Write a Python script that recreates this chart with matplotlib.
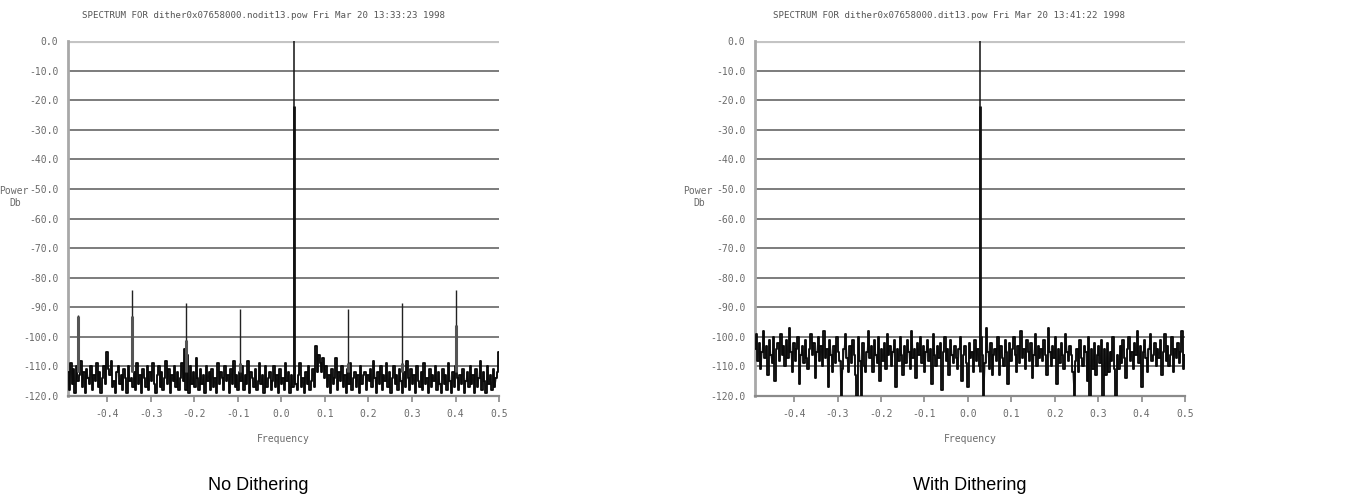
import numpy as np
import matplotlib
matplotlib.use("Agg")
import matplotlib.pyplot as plt

# ---------------- data ----------------
titles = ["SPECTRUM FOR dither0x07658000.nodit13.pow Fri Mar 20 13:33:23 1998",
          "SPECTRUM FOR dither0x07658000.dit13.pow Fri Mar 20 13:41:22 1998"]
captions = ["No Dithering", "With Dithering"]
y_ticks = [0, -10, -20, -30, -40, -50, -60, -70, -80, -90, -100, -110, -120]
x_ticks = [-0.4, -0.3, -0.2, -0.1, 0.0, 0.1, 0.2, 0.3, 0.4, 0.5]
freq_start, freq_end = -0.49, 0.5

noise_nodither = [
    -112,-118,-109,-116,-111,-119,-110,-115,-113,-108,-117,-112,-119,-111,-114,-116,-110,-118,-113,-115,
    -109,-117,-112,-119,-114,-110,-116,-105,-111,-113,-108,-117,-115,-119,-112,-110,-116,-113,-118,-111,
    -114,-119,-110,-115,-114,-117,-112,-118,-109,-116,-113,-119,-111,-114,-117,-110,-118,-112,-115,-109,
    -116,-119,-113,-110,-117,-112,-118,-114,-108,-116,-111,-119,-113,-115,-110,-117,-112,-118,-114,-109,
    -115,-104,-118,-106,-119,-110,-116,-112,-117,-107,-114,-118,-111,-116,-113,-119,-110,-115,-112,-118,
    -111,-117,-114,-119,-109,-116,-112,-114,-118,-110,-115,-113,-119,-111,-116,-108,-117,-113,-118,-112,
    -115,-110,-118,-113,-116,-108,-119,-112,-114,-117,-111,-118,-115,-109,-116,-113,-119,-110,-117,-114,
    -112,-118,-115,-110,-117,-113,-119,-111,-116,-114,-118,-109,-115,-112,-119,-113,-117,-110,-116,-118,
    -113,-109,-117,-114,-119,-112,-116,-110,-118,-115,-111,-117,-103,-112,-106,-109,-112,-107,-114,-110,
    -117,-113,-119,-111,-116,-114,-107,-118,-112,-115,-110,-117,-113,-119,-111,-116,-109,-118,-114,-112,
    -117,-113,-119,-110,-116,-113,-112,-118,-113,-115,-111,-117,-108,-114,-119,-112,-116,-110,-118,-113,
    -115,-109,-117,-112,-119,-114,-110,-116,-113,-118,-111,-115,-119,-112,-117,-108,-114,-118,-111,-116,
    -113,-119,-110,-115,-117,-112,-118,-109,-116,-114,-119,-111,-117,-113,-115,-110,-118,-112,-116,-119,
    -111,-116,-113,-118,-109,-115,-119,-112,-117,-110,-114,-118,-113,-116,-111,-119,-115,-112,-117,-110,
    -116,-113,-119,-111,-117,-114,-108,-118,-112,-115,-119,-110,-116,-113,-118,-111,-117,-114,-112,-105,
]

noise_dither = [
    -104,-99,-108,-102,-111,-105,-98,-107,-103,-113,-101,-106,-109,-100,-115,-104,-102,-108,-99,-106,
    -103,-110,-101,-107,-97,-105,-112,-102,-108,-104,-100,-116,-106,-103,-109,-101,-107,-111,-104,-99,
    -106,-102,-114,-105,-100,-108,-103,-110,-98,-107,-104,-117,-101,-106,-112,-103,-109,-100,-105,-108,
    -120,-111,-104,-99,-107,-112,-103,-109,-101,-106,-113,-120,-100,-108,-120,-102,-110,-112,-105,-98,
    -107,-103,-112,-101,-106,-109,-100,-115,-104,-108,-102,-111,-99,-106,-103,-110,-105,-101,-117,-104,
    -108,-100,-106,-113,-103,-109,-101,-105,-111,-98,-107,-104,-114,-102,-106,-100,-109,-103,-112,-105,
    -101,-108,-104,-116,-99,-106,-110,-103,-107,-102,-118,-105,-100,-108,-104,-113,-101,-106,-109,-103,
    -107,-111,-104,-100,-115,-106,-103,-109,-117,-102,-107,-105,-112,-101,-108,-104,-110,-100,-106,-120,
    -109,-97,-105,-111,-102,-113,-106,-104,-108,-100,-113,-103,-107,-110,-101,-105,-116,-102,-108,-104,
    -100,-106,-112,-103,-109,-98,-107,-104,-111,-101,-105,-108,-102,-114,-106,-99,-110,-103,-107,-104,
    -108,-101,-106,-113,-97,-105,-110,-103,-107,-100,-116,-104,-109,-102,-106,-111,-99,-105,-108,-103,
    -106,-112,-120,-108,-104,-112,-101,-107,-110,-103,-105,-115,-100,-120,-104,-111,-102,-113,-106,-103,
    -109,-101,-120,-104,-113,-102,-112,-105,-108,-100,-111,-120,-106,-111,-103,-109,-101,-107,-114,-104,
    -100,-108,-105,-111,-102,-106,-98,-109,-103,-117,-105,-101,-107,-112,-104,-99,-108,-106,-102,-110,
    -104,-107,-101,-113,-105,-99,-108,-103,-110,-106,-100,-112,-104,-107,-102,-109,-105,-98,-111,-106,
]

# main tone (two adjacent bins)
main_freq = [0.029, 0.028]
main_peak = [0.0, 0.0]
main_second = [-22.0, -22.0]

# harmonic spurs (no dithering only)
spur_freq = [-0.468, -0.342, -0.218, -0.094, 0.153, 0.276, 0.400]
spur_peak = [-92.5, -84.0, -88.5, -90.5, -90.5, -88.5, -84.0]
spur_second = [-93.0, -93.0, -101.0, -109.0, -109.0, -109.0, -96.0]
spur_base = -112.0

# ---------------- figure ----------------
fig = plt.figure(figsize=(13.54, 5.03), dpi=100)
fig.patch.set_facecolor("white")

mono = "DejaVu Sans Mono"
grey_txt = "#6a6a6a"

ax_rects = [[0.0502, 0.2127, 0.3184, 0.7058],
            [0.5576, 0.2127, 0.3176, 0.7058]]
title_x = [263 / 1354, 949 / 1354]
caption_x = [258 / 1354, 970 / 1354]
power_x = [14 / 1354, 698 / 1354]

noises = [noise_nodither, noise_dither]

for i in range(2):
    ax = fig.add_axes(ax_rects[i])
    ax.set_xlim(freq_start, freq_end)
    ax.set_ylim(-120, 0)

    # grid lines
    for yv in y_ticks:
        if yv == 0:
            ax.axhline(yv, color="#c4c4c4", lw=3.0, zorder=1)
        elif yv == -120:
            continue
        else:
            ax.axhline(yv, color="#7c7c7c", lw=1.4, zorder=1)

    noise = noises[i]
    fx = np.linspace(freq_start, freq_end, len(noise))
    ax.plot(fx, noise, color="#4a4a4a", lw=0.8, zorder=3)
    ax.plot(fx, noise, color="#0a0a0a", lw=1.3, zorder=3, drawstyle="steps-mid")

    # main tone
    ax.vlines(main_freq[i], -112, main_peak[i], color="#111111", lw=1.1, zorder=4)
    ax.vlines(main_freq[i], -112, main_second[i], color="#111111", lw=2.0, zorder=4)

    if i == 0:
        ax.vlines(spur_freq, spur_base, spur_peak, color="#222222", lw=1.0, zorder=4)
        ax.vlines(spur_freq, spur_base, spur_second, color="#555555", lw=2.2, zorder=4)

    # spines
    for s in ["top", "right"]:
        ax.spines[s].set_visible(False)
    ax.spines["left"].set_color("#a8a8a8")
    ax.spines["left"].set_linewidth(2.0)
    ax.spines["bottom"].set_color("#8a8a8a")
    ax.spines["bottom"].set_linewidth(1.6)

    ax.set_yticks(y_ticks)
    ax.set_yticklabels([f"{v:.1f}" for v in y_ticks])
    ax.set_xticks(x_ticks)
    ax.set_xticklabels([f"{v:.1f}" for v in x_ticks])
    ax.tick_params(axis="y", length=0, pad=7, labelsize=7, labelcolor=grey_txt)
    ax.tick_params(axis="x", length=4, width=1.2, color="#8a8a8a", pad=5,
                   labelsize=7, labelcolor=grey_txt, direction="out")
    for lab in ax.get_xticklabels() + ax.get_yticklabels():
        lab.set_family(mono)

    fig.text(title_x[i], 1 - 15 / 503, titles[i], ha="center", va="center",
             family=mono, fontsize=6.6, color="#555555")
    fig.text((ax_rects[i][0] + ax_rects[i][2] / 2), 1 - 439 / 503, "Frequency",
             ha="center", va="center", family=mono, fontsize=7, color=grey_txt)
    fig.text(power_x[i], 1 - 191 / 503, "Power", ha="center", va="center",
             family=mono, fontsize=7, color=grey_txt)
    fig.text(power_x[i] + 1 / 1354, 1 - 203 / 503, "Db", ha="center", va="center",
             family=mono, fontsize=7, color=grey_txt)
    fig.text(caption_x[i], 1 - 486 / 503, captions[i], ha="center", va="center",
             family="Liberation Sans", fontsize=13, color="black")

fig.savefig("out.png", dpi=100, facecolor="white")
